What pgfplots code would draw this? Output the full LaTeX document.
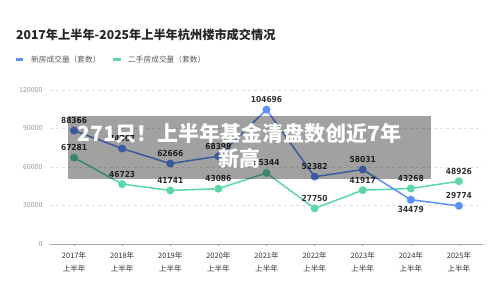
\documentclass[border=0pt]{standalone}
\usepackage{pgfplots}
\pgfplotsset{compat=1.18}
\usepackage{pgfplotstable}
\usepackage{fontspec}
\setmainfont{Noto Sans CJK SC}
\newfontfamily\numfont{DejaVu Sans Condensed}
\definecolor{newc}{HTML}{5B8FF9}
\definecolor{oldc}{HTML}{5AD8A6}
\definecolor{txt}{HTML}{333333}
\definecolor{tick}{HTML}{999999}

\pgfplotstableread{
x new off
0 88366 10
1 74367 10
2 62666 10
3 68399 10
4 104696 10
5 52382 10
6 58031 10
7 34479 -10
8 29774 10
}\newdata

\pgfplotstableread{
x old off
0 67281 10
1 46723 10
2 41741 10
3 43086 10
4 55344 10
5 27750 10
6 41917 10
7 43268 10
8 48926 10
}\olddata

\begin{document}
\begin{tikzpicture}[x=1pt,y=1pt]
\fill[white] (0,0) rectangle (500,295);
\node[anchor=west,inner sep=0,font=\fontsize{12.2}{14}\selectfont\bfseries,text=black!85] at (16,260) {2017年上半年-2025年上半年杭州楼市成交情况};
\fill[newc] (16,233.5) rectangle (23,236.5);
\node[anchor=west,inner sep=0,font=\fontsize{7.7}{9}\selectfont,text=black!65] at (31,235) {新房成交量（套数）};
\fill[oldc] (113,233.5) rectangle (121,236.5);
\node[anchor=west,inner sep=0,font=\fontsize{7.7}{9}\selectfont,text=black!65] at (128,235) {二手房成交量（套数）};
\begin{axis}[
  at={(50pt,51pt)}, anchor=south west, scale only axis,
  width=433pt, height=154pt,
  xmin=-0.5, xmax=8.5, ymin=0, ymax=120000,
  xtick={0,...,8},
  xticklabels={{2017年\\上半年},{2018年\\上半年},{2019年\\上半年},{2020年\\上半年},{2021年\\上半年},{2022年\\上半年},{2023年\\上半年},{2024年\\上半年},{2025年\\上半年}},
  xticklabel style={align=center,font=\fontsize{7.5}{12.5}\selectfont,text=txt,yshift=-3pt},
  ytick={0,30000,60000,90000,120000},
  yticklabels={0,30000,60000,90000,120000},
  yticklabel style={font=\fontsize{7}{8}\selectfont,text=tick, xshift=-2pt},
  scaled y ticks=false,
  axis x line*=bottom, axis y line*=left,
  y axis line style={draw=none},
  x axis line style={draw=black!35, line width=0.6pt},
  ytick style={draw=none},
  xtick style={draw=black!35, line width=0.5pt},
  tick align=outside, major tick length=2pt,
  ymajorgrids, grid style={dashed, draw=black!12, line width=0.6pt},
  clip=false,
  point meta=explicit symbolic,
  nodes near coords,
  visualization depends on={\thisrow{off} \as \off},
  every node near coord/.style={anchor=center, yshift=\off pt, font=\numfont\bfseries\fontsize{8.3}{9}\selectfont, text=txt, inner sep=0},
]
\addplot[draw=oldc, line width=1.5pt, mark=*, mark size=3.2pt, mark options={fill=oldc, draw=oldc}] table[x=x,y=old,meta=old] {\olddata};
\addplot[draw=newc, line width=1.5pt, mark=*, mark size=3.2pt, mark options={fill=newc, draw=newc}] table[x=x,y=new,meta=new] {\newdata};
\end{axis}
\fill[black,opacity=0.37] (68,116) rectangle (431,179);
\node[text=white,font=\fontsize{21}{25}\selectfont\bfseries,align=center] at (239.5,149.5) {271只！上半年基金清盘数创近7年\\新高};
\end{tikzpicture}
\end{document}
